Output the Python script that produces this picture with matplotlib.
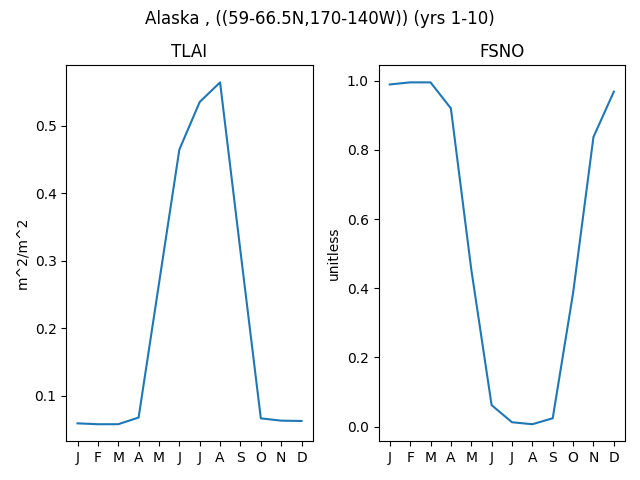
import numpy as np
import matplotlib
matplotlib.use('Agg')
import matplotlib.pyplot as plt

months = ['J', 'F', 'M', 'A', 'M', 'J', 'J', 'A', 'S', 'O', 'N', 'D']

# monthly climatology
tlai = [0.059, 0.0577, 0.0577, 0.0676, 0.266, 0.4644, 0.535, 0.564,
        0.314, 0.0664, 0.063, 0.0625]
fsno = [0.989, 0.995, 0.995, 0.92, 0.455, 0.062, 0.0125, 0.0068,
        0.024, 0.386, 0.837, 0.968]

X = np.arange(len(months))

fig, (ax1, ax2) = plt.subplots(1, 2, figsize=(6.4, 4.8), dpi=100)
fig.suptitle('Alaska , ((59-66.5N,170-140W)) (yrs 1-10)')

ax1.plot(X, tlai)
ax1.set_title('TLAI')
ax1.set_ylabel('m^2/m^2')
ax1.set_xticks(X)
ax1.set_xticklabels(months)

ax2.plot(X, fsno)
ax2.set_title('FSNO')
ax2.set_ylabel('unitless')
ax2.set_xticks(X)
ax2.set_xticklabels(months)

plt.subplots_adjust(left=0.1036, right=0.9766, bottom=0.0806, top=0.864,
                    wspace=0.267)
plt.savefig('out.png')
